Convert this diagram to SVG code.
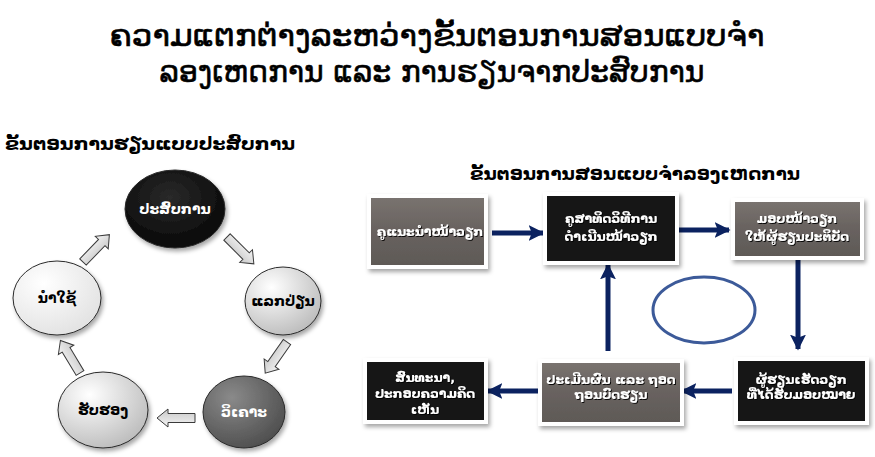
<svg xmlns="http://www.w3.org/2000/svg" width="875" height="457" viewBox="0 0 875 457">
<defs>
<style>
.lao{font-family:"DejaVu Sans","Noto Sans",sans-serif;}
.title{font-size:30px;fill:#000;stroke:#000;stroke-width:0.6;text-anchor:middle;}
.head{font-size:17px;font-weight:bold;fill:#000;}
.bt{font-size:12.5px;fill:#fff;text-anchor:middle;font-weight:bold;}
.ct{font-size:14px;font-weight:bold;text-anchor:middle;}
.box{stroke:#fff;stroke-width:4;}
.grey{fill:url(#gGrey);}
.black{fill:#121212;}
.bar{fill:url(#gBar);stroke:#3a3a3a;stroke-width:1;}
.conn{stroke:#0b2260;stroke-width:5;fill:none;}
.circ{stroke:#2a2a2a;stroke-width:1;}
</style>
<linearGradient id="gGrey" x1="0" y1="0" x2="0" y2="1"><stop offset="0" stop-color="#7a7470"/><stop offset="0.5" stop-color="#68625f"/><stop offset="1" stop-color="#5e5956"/></linearGradient>
<linearGradient id="gBar" x1="0" y1="0" x2="0" y2="1"><stop offset="0" stop-color="#f4f4f4"/><stop offset="1" stop-color="#c8c8c8"/></linearGradient>
<radialGradient id="gBlack" cx="0.45" cy="0.35" r="0.7"><stop offset="0" stop-color="#2a2a2a"/><stop offset="1" stop-color="#050505"/></radialGradient>
<radialGradient id="gLight" cx="0.35" cy="0.3" r="0.8"><stop offset="0" stop-color="#ffffff"/><stop offset="1" stop-color="#b8b8b8"/></radialGradient>
<radialGradient id="gDark" cx="0.35" cy="0.3" r="0.8"><stop offset="0" stop-color="#8a8a8a"/><stop offset="1" stop-color="#4a4a4a"/></radialGradient>
<radialGradient id="gWhite" cx="0.35" cy="0.3" r="0.8"><stop offset="0" stop-color="#ffffff"/><stop offset="1" stop-color="#e0e0e0"/></radialGradient>
<filter id="sh" x="-20%" y="-20%" width="150%" height="150%"><feDropShadow dx="2" dy="3" stdDeviation="2" flood-color="#000" flood-opacity="0.35"/></filter>
<filter id="tsh" x="-10%" y="-30%" width="120%" height="160%"><feDropShadow dx="1" dy="1" stdDeviation="0.6" flood-color="#000" flood-opacity="0.9"/></filter>
<marker id="ah" viewBox="0 0 10 10" refX="9" refY="5" markerUnits="userSpaceOnUse" markerWidth="16" markerHeight="17" orient="auto"><path d="M0,0 L10,5 L0,10 L2,5 Z" fill="#0b2260"/></marker>
<path id="barr" d="M0,-4.5 H27 V-9 L38,0 L27,9 V4.5 H0 Z"/>
</defs>
<rect width="875" height="457" fill="#fff"/>

<g id="title" class="lao">
<text class="title" x="437" y="46" textLength="655" lengthAdjust="spacingAndGlyphs">ຄວາມແຕກຕ່າງລະຫວ່າງຂັ້ນຕອນການສອນແບບຈຳ</text>
<text class="title" x="432" y="82" textLength="545" lengthAdjust="spacingAndGlyphs">ລອງເຫດການ ແລະ ການຮຽນຈາກປະສົບການ</text>
</g>

<g id="heading-left" class="lao"><text class="head" x="5" y="150" textLength="290" lengthAdjust="spacingAndGlyphs">ຂັ້ນຕອນການຮຽນແບບປະສົບການ</text></g>
<g id="heading-right" class="lao"><text class="head" x="470" y="180" textLength="330" lengthAdjust="spacingAndGlyphs">ຂັ້ນຕອນການສອນແບບຈຳລອງເຫດການ</text></g>

<g id="cycle-arrows">
<use href="#barr" class="bar" transform="translate(83,262) rotate(-46)"/>
<use href="#barr" class="bar" transform="translate(227,237) rotate(45)"/>
<use href="#barr" class="bar" transform="translate(287,342) rotate(125)"/>
<use href="#barr" class="bar" transform="translate(195,418) rotate(180)"/>
<use href="#barr" class="bar" transform="translate(80,373) rotate(-121)"/>
</g>

<g id="c-experience" class="lao"><ellipse class="circ" cx="175" cy="209" rx="50" ry="39" fill="url(#gBlack)" filter="url(#sh)"/><text class="ct" x="175" y="214" fill="#fff">ປະສົບການ</text></g>
<g id="c-exchange" class="lao"><ellipse class="circ" cx="283" cy="301" rx="38" ry="34" fill="url(#gLight)" filter="url(#sh)"/><text class="ct" x="283" y="306" fill="#000">ແລກປ່ຽນ</text></g>
<g id="c-analyse" class="lao"><ellipse class="circ" cx="244" cy="412" rx="41" ry="36" fill="url(#gDark)" filter="url(#sh)"/><text class="ct" x="244" y="417" fill="#fff">ວິເຄາະ</text></g>
<g id="c-certify" class="lao"><ellipse class="circ" cx="103" cy="410" rx="45" ry="38" fill="url(#gLight)" filter="url(#sh)"/><text class="ct" x="103" y="415" fill="#000">ຮັບຮອງ</text></g>
<g id="c-apply" class="lao"><ellipse class="circ" cx="57" cy="298" rx="44" ry="37" fill="url(#gWhite)" filter="url(#sh)"/><text class="ct" x="57" y="303" fill="#000">ນຳໃຊ້</text></g>

<g id="connectors">
<line class="conn" x1="492" y1="233" x2="543" y2="233" marker-end="url(#ah)"/>
<line class="conn" x1="679" y1="230" x2="729" y2="230" marker-end="url(#ah)"/>
<line class="conn" x1="798" y1="259" x2="798" y2="349" marker-end="url(#ah)"/>
<line class="conn" x1="732" y1="391" x2="682" y2="391" marker-end="url(#ah)"/>
<line class="conn" x1="540" y1="391" x2="488" y2="391" marker-end="url(#ah)"/>
<line class="conn" x1="608" y1="351" x2="608" y2="265" marker-end="url(#ah)"/>
</g>

<g id="cycle-ellipse"><ellipse cx="704" cy="310" rx="51" ry="33" fill="none" stroke="#3c5a99" stroke-width="3"/></g>

<g id="b1" class="lao"><rect class="box grey" x="369" y="196" width="117" height="71" filter="url(#sh)"/><text class="bt" x="430" y="236" filter="url(#tsh)">ຄູແນະນຳໜ້າວຽກ</text></g>
<g id="b2" class="lao"><rect class="box black" x="545" y="194" width="132" height="69" filter="url(#sh)"/><text class="bt" x="611" y="223" filter="url(#tsh)">ຄູສາທິດວິທີການ</text><text class="bt" x="611" y="241" filter="url(#tsh)">ດຳເນີນໜ້າວຽກ</text></g>
<g id="b3" class="lao"><rect class="box grey" x="733" y="200" width="129" height="58" filter="url(#sh)"/><text class="bt" x="797" y="223" filter="url(#tsh)">ມອບໜ້າວຽກ</text><text class="bt" x="797" y="241" filter="url(#tsh)">ໃຫ້ຜູ້ຮຽນປະຕິບັດ</text></g>
<g id="b4" class="lao"><rect class="box black" x="736" y="359" width="131" height="64" filter="url(#sh)"/><text class="bt" x="801" y="384" filter="url(#tsh)">ຜູ້ຮຽນເຮັດວຽກ</text><text class="bt" x="801" y="399" filter="url(#tsh)">ທີ່ໄດ້ຮັບມອບໝາຍ</text></g>
<g id="b5" class="lao"><rect class="box grey" x="540" y="361" width="142" height="63" filter="url(#sh)"/><text class="bt" x="611" y="384" filter="url(#tsh)">ປະເມີນຜົນ ແລະ ຖອດ</text><text class="bt" x="611" y="399" filter="url(#tsh)">ຖອນບົດຮຽນ</text></g>
<g id="b6" class="lao"><rect class="box black" x="365" y="360" width="121" height="62" filter="url(#sh)"/><text class="bt" x="425" y="382" filter="url(#tsh)">ສົນທະນາ,</text><text class="bt" x="425" y="398" filter="url(#tsh)">ປະກອບຄວາມຄິດ</text><text class="bt" x="425" y="414" filter="url(#tsh)">ເຫັນ</text></g>
</svg>
